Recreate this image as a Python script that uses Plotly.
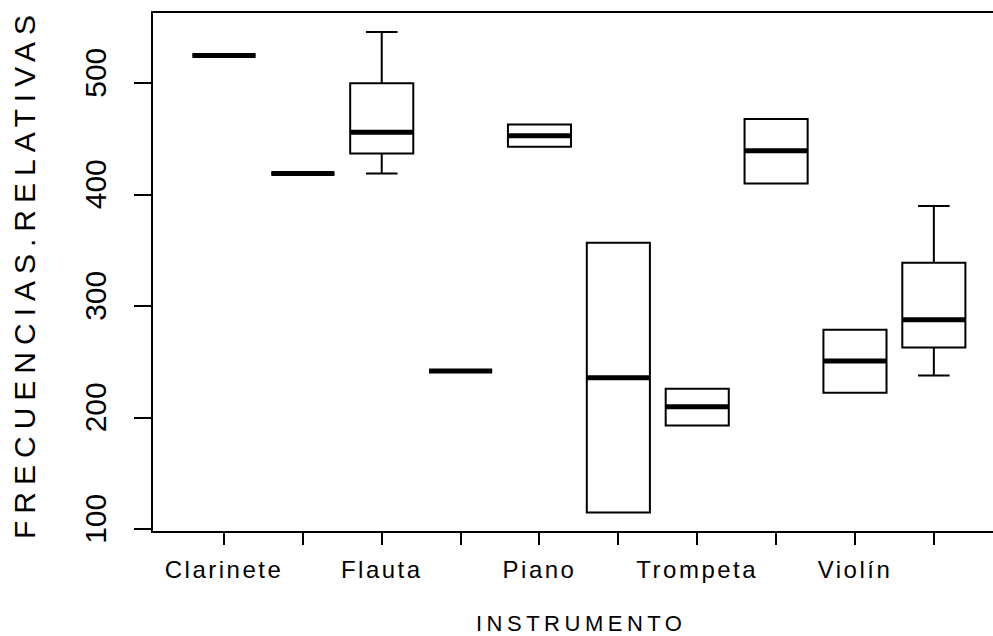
import plotly.graph_objects as go

# Diez grupos (dos por instrumento); sólo se rotulan las posiciones impares
posiciones = [1, 2, 3, 4, 5, 6, 7, 8, 9, 10]
etiquetas_eje = ["Clarinete", "", "Flauta", "", "Piano", "", "Trompeta", "", "Violín", ""]

# Resumen de cinco números de cada grupo
bigote_inf = [525, 419, 419, 242, 443, 115, 193, 410, 222.5, 238]
q1 = [525, 419, 437, 242, 443, 115, 193, 410, 222.5, 263]
mediana = [525, 419, 456, 242, 453, 236, 210, 439.5, 251, 288]
q3 = [525, 419, 500, 242, 463, 357, 226, 468, 279, 339]
bigote_sup = [525, 419, 546, 242, 463, 357, 226, 468, 279, 390]

ticks_y = [100, 200, 300, 400, 500]

ANCHO = 0.8
FUENTE = "Liberation Sans, Arial, sans-serif"


def espaciado(texto, px):
    return f"<span style='letter-spacing:{px}px'>{texto}</span>" if texto else ""


fig = go.Figure()

fig.add_trace(go.Box(
    x=posiciones,
    q1=q1, median=mediana, q3=q3,
    lowerfence=bigote_inf, upperfence=bigote_sup,
    width=ANCHO, whiskerwidth=0.5,
    boxpoints=False,
    fillcolor="rgba(255,255,255,0)",
    line=dict(color="black", width=2),
    hoverinfo="skip",
    showlegend=False,
))

# Mediana gruesa, como en boxplot() de R
mx, my = [], []
for p, m in zip(posiciones, mediana):
    mx += [p - ANCHO / 2, p + ANCHO / 2, None]
    my += [m, m, None]
fig.add_trace(go.Scatter(
    x=mx, y=my, mode="lines",
    line=dict(color="black", width=5),
    hoverinfo="skip", showlegend=False,
))

fig.update_layout(
    width=993, height=636, autosize=False,
    margin=dict(l=153, r=0, t=13, b=105, pad=0),
    paper_bgcolor="white", plot_bgcolor="white",
    font=dict(family=FUENTE, color="black"),
    xaxis=dict(
        range=[0.1, 10.75],
        tickmode="array", tickvals=posiciones,
        ticktext=[espaciado(t, 2.5) for t in etiquetas_eje],
        tickangle=0,
        ticks="outside", ticklen=12, tickwidth=2, tickcolor="black",
        tickfont=dict(size=24, family=FUENTE, color="black"),
        showline=True, linewidth=2, linecolor="black", mirror=True,
        showgrid=False, zeroline=False,
        ticklabelstandoff=4,
    ),
    yaxis=dict(
        range=[98.5, 563.0],
        tickmode="array", tickvals=ticks_y,
        ticktext=[str(v) for v in ticks_y],
        tickangle=-90,
        ticks="outside", ticklen=17, tickwidth=2, tickcolor="black",
        tickfont=dict(size=30, family=FUENTE, color="black"),
        showline=True, linewidth=2, linecolor="black", mirror=False,
        showgrid=False, zeroline=False,
        ticklabelstandoff=16,
        ticklabelshift=-6,
    ),
    annotations=[
        dict(text=espaciado("INSTRUMENTO", 4.5), xref="paper", yref="paper",
             x=(579 - 153) / 840, y=0, yshift=-92, xshift=2,
             xanchor="center", yanchor="middle", showarrow=False,
             font=dict(size=22, family=FUENTE, color="black")),
        dict(text=espaciado("FRECUENCIAS.RELATIVAS", 7), xref="paper", yref="paper",
             x=0, xshift=-129, y=0.5, yshift=-2, textangle=-90,
             xanchor="center", yanchor="middle", showarrow=False,
             font=dict(size=30, family=FUENTE, color="black")),
    ],
)

fig.write_html("out.html")
